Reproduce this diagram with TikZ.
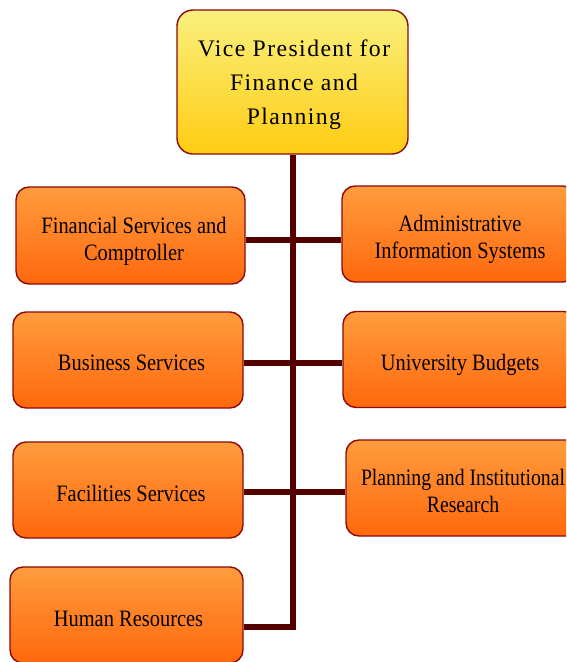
\documentclass[tikz,border=0pt]{standalone}
\usepackage{fontspec}
\setmainfont{Liberation Serif}
\newfontfamily\boxfont[FakeStretch=0.87]{Liberation Serif}
\newfontfamily\boxfontn[FakeStretch=0.84]{Liberation Serif}
\newfontfamily\topfont[LetterSpace=6]{Liberation Serif}
\definecolor{conncol}{HTML}{550000}
\definecolor{edgecol}{HTML}{8B0A0A}
\definecolor{orangetop}{HTML}{FF9C3E}
\definecolor{orangebot}{HTML}{FF680C}
\definecolor{yellowtop}{HTML}{F9F07E}
\definecolor{yellowbot}{HTML}{FFCC12}
\begin{document}
\begin{tikzpicture}[x=1pt,y=-1pt,
  unitbox/.style={draw=edgecol, line width=1.4pt, rounded corners=13pt,
    top color=orangetop, bottom color=orangebot, minimum width=230pt,
    minimum height=96pt, inner sep=0pt},
  vpbox/.style={draw=edgecol, line width=1.4pt, rounded corners=16pt,
    top color=yellowtop, bottom color=yellowbot, minimum width=231pt,
    minimum height=144pt, inner sep=0pt},
  unittext/.style={align=center, inner sep=0pt,
    font=\boxfont\fontsize{23.5}{27}\selectfont},
  vptext/.style={align=center, inner sep=0pt,
    font=\topfont\fontsize{23.7}{34}\selectfont},
  conn/.style={draw=conncol, line width=6pt}]
\clip (0,0) rectangle (566,662);
\fill[white] (0,0) rectangle (566,662);
% boxes
\node[vpbox] (vp) at (292.5,82) {};
\node[unitbox, minimum width=229pt, minimum height=97pt] (l1) at (130.5,235.5) {};
\node[unitbox] (l2) at (128,360) {};
\node[unitbox] (l3) at (128,490) {};
\node[unitbox, minimum width=233pt] (l4) at (126.5,615) {};
\node[unitbox, minimum width=234pt] (r1) at (459,234) {};
\node[unitbox, minimum width=234pt] (r2) at (460,359.5) {};
\node[unitbox, minimum width=234pt] (r3) at (463,488) {};
% texts
\node[vptext] (vpt) at ([xshift=1.5pt,yshift=-3pt]vp.center) {Vice President for\\Finance and\\Planning};
\node[unittext] (l1t) at ([xshift=3.5pt,yshift=-5.5pt]l1.center) {Financial Services and\\Comptroller};
\node[unittext] (l2t) at ([xshift=3.5pt,yshift=-3pt]l2.center) {Business Services};
\node[unittext] (l3t) at ([xshift=3pt,yshift=-3pt]l3.center) {Facilities Services};
\node[unittext] (l4t) at ([xshift=2pt,yshift=-4pt]l4.center) {Human Resources};
\node[unittext] (r1t) at ([xshift=1pt,yshift=-5pt]r1.center) {Administrative\\Information Systems};
\node[unittext] (r2t) at ([yshift=-5pt]r2.center) {University Budgets};
\node[unittext, font=\boxfontn\fontsize{23.5}{27}\selectfont] (r3t) at ([xshift=0pt,yshift=-2.5pt]r3.center) {Planning and Institutional\\Research};
% connectors
\draw[conn] (vp.south) |- (l4.east |- 0,627);
\draw[conn] (l1.east |- 0,240) -- (r1.west |- 0,240);
\draw[conn] (l2.east |- 0,363) -- (r2.west |- 0,363);
\draw[conn] (l3.east |- 0,492) -- (r3.west |- 0,492);
\end{tikzpicture}
\end{document}
